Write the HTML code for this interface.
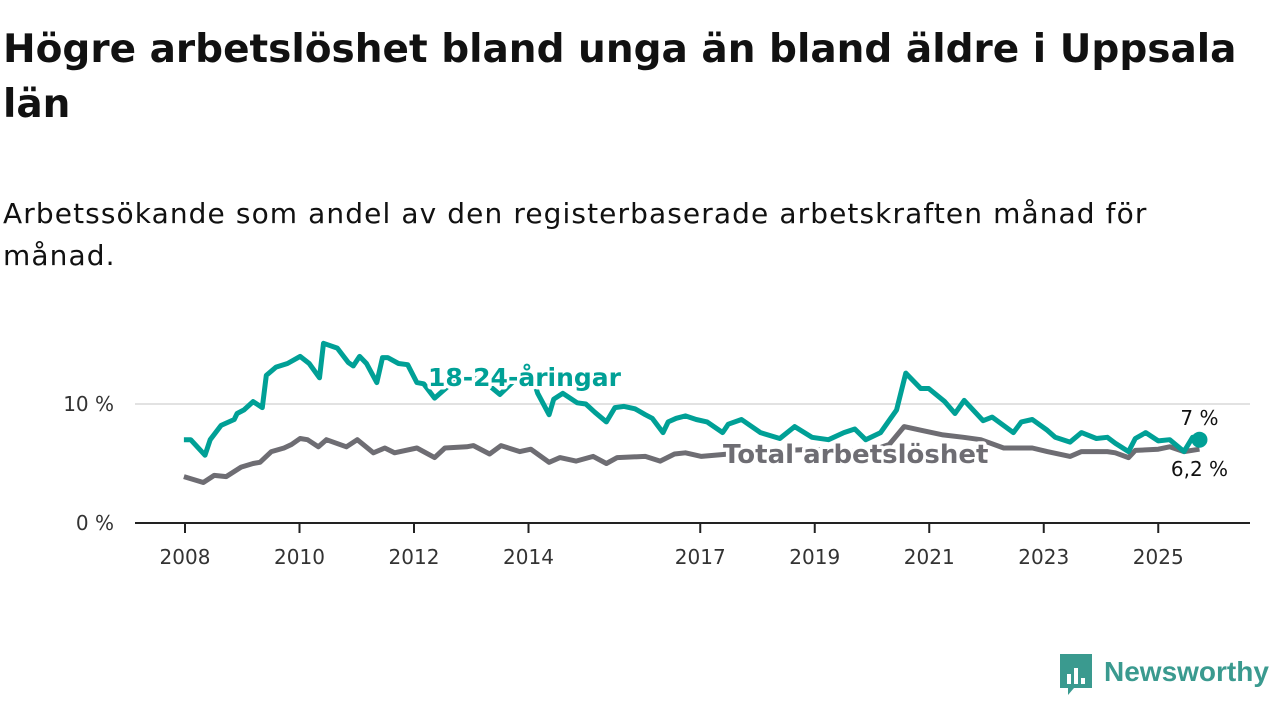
<!DOCTYPE html>
<html><head><meta charset="utf-8">
<style>
body{margin:0;width:1280px;height:720px;background:#fff;font-family:"DejaVu Sans","Liberation Sans",sans-serif;overflow:hidden;position:relative;color:#111}
h1{position:absolute;left:3px;top:22px;margin:0;font-size:39px;line-height:55px;font-weight:bold;width:1275px;color:#111;white-space:nowrap}
.sub{position:absolute;left:3px;top:193px;font-size:28px;line-height:42px;width:1275px;color:#111;white-space:nowrap;letter-spacing:1.1px}
svg{position:absolute;left:0;top:0}
</style></head><body>
<h1>Högre arbetslöshet bland unga än bland äldre i Uppsala<br>län</h1>
<div class="sub">Arbetssökande som andel av den registerbaserade arbetskraften månad för<br>månad.</div>
<svg id="chart" width="1280" height="720"></svg>
<div style="position:absolute;left:1060px;top:654px;width:220px;height:44px">
 <svg width="34" height="42" style="position:absolute;left:0;top:0"><path d="M0 0H32V34H14L8 41V34H0Z" fill="#3a9a8f"/><rect x="7" y="20" width="4" height="10" fill="#fff"/><rect x="14" y="14" width="4" height="16" fill="#fff"/><rect x="21" y="24" width="4" height="6" fill="#fff"/></svg>
 <span style="position:absolute;left:44px;top:2px;font-size:28px;font-weight:bold;color:#3a9a8f;font-family:'Liberation Sans',sans-serif">Newsworthy</span>
</div>
<script>
const youthDates=[2007.98,2008.1,2008.35,2008.44,2008.63,2008.86,2008.91,2009.03,2009.19,2009.35,2009.42,2009.59,2009.79,2010.01,2010.17,2010.35,2010.42,2010.66,2010.85,2010.94,2011.05,2011.17,2011.35,2011.45,2011.54,2011.73,2011.89,2012.05,2012.17,2012.36,2012.6,2012.9,2013.2,2013.5,2013.8,2014.1,2014.16,2014.36,2014.44,2014.6,2014.85,2015.0,2015.16,2015.36,2015.51,2015.67,2015.86,2016.04,2016.16,2016.35,2016.44,2016.58,2016.74,2016.93,2017.12,2017.39,2017.49,2017.72,2018.05,2018.39,2018.65,2018.95,2019.24,2019.51,2019.7,2019.89,2020.15,2020.43,2020.59,2020.85,2020.99,2021.27,2021.45,2021.61,2021.94,2022.1,2022.47,2022.61,2022.8,2023.06,2023.2,2023.46,2023.66,2023.92,2024.11,2024.25,2024.48,2024.6,2024.78,2025.0,2025.2,2025.45,2025.6,2025.72];
const youthValues=[7.0,7.0,5.7,7.0,8.2,8.7,9.2,9.5,10.2,9.7,12.4,13.1,13.4,14.0,13.4,12.2,15.1,14.7,13.5,13.2,14.0,13.4,11.8,13.9,13.9,13.4,13.3,11.8,11.7,10.5,11.5,12.3,12.0,10.8,12.2,11.8,10.9,9.1,10.4,10.9,10.1,10.0,9.3,8.5,9.7,9.8,9.6,9.1,8.8,7.6,8.5,8.8,9.0,8.7,8.5,7.6,8.3,8.7,7.6,7.1,8.1,7.2,7.0,7.6,7.9,7.0,7.6,9.5,12.6,11.3,11.3,10.2,9.2,10.3,8.6,8.9,7.6,8.5,8.7,7.8,7.2,6.8,7.6,7.1,7.2,6.7,6.0,7.1,7.6,6.9,7.0,6.0,7.2,7.0];
const totalDates=[2007.98,2008.32,2008.51,2008.72,2008.98,2009.19,2009.31,2009.51,2009.73,2009.86,2010.01,2010.14,2010.33,2010.47,2010.82,2011.01,2011.29,2011.49,2011.66,2012.05,2012.36,2012.54,2012.92,2013.04,2013.32,2013.52,2013.85,2014.04,2014.36,2014.55,2014.83,2015.13,2015.36,2015.55,2016.04,2016.3,2016.55,2016.74,2017.02,2017.5,2018.0,2018.5,2019.0,2019.5,2020.0,2020.3,2020.56,2020.85,2021.24,2021.6,2021.9,2022.3,2022.8,2023.06,2023.46,2023.66,2024.11,2024.25,2024.48,2024.6,2025.0,2025.2,2025.45,2025.72];
const totalValues=[3.9,3.4,4.0,3.9,4.7,5.0,5.1,6.0,6.3,6.6,7.1,7.0,6.4,7.0,6.4,7.0,5.9,6.3,5.9,6.3,5.5,6.3,6.4,6.5,5.8,6.5,6.0,6.2,5.1,5.5,5.2,5.6,5.0,5.5,5.6,5.2,5.8,5.9,5.6,5.8,6.0,6.1,6.2,6.0,6.1,6.6,8.1,7.8,7.4,7.2,7.0,6.3,6.3,6.0,5.6,6.0,6.0,5.9,5.5,6.1,6.2,6.4,6.0,6.2];
const xTicks=[2008,2010,2012,2014,2017,2019,2021,2023,2025];
const yTicks=[0,10];
const yTickLabels=["0 %","10 %"];

const NS="http://www.w3.org/2000/svg",svg=document.getElementById('chart');
const X=y=>185+(y-2008)*57.25, Y=v=>523-v*11.9;
function mk(t,a,p){const e=document.createElementNS(NS,t);for(const k in a)e.setAttribute(k,a[k]);(p||svg).appendChild(e);return e;}
yTicks.forEach((v,i)=>{
 if(v>0){const g=mk('line',{x1:135,x2:1250,y1:Y(v),y2:Y(v),stroke:'#d9d9d9','stroke-width':1.5});
 
 }
 const t=mk('text',{x:114,y:Y(v)+7,'text-anchor':'end','font-size':20,fill:'#333'});t.textContent=yTickLabels[i];
 
 
});
const ax=mk('line',{x1:135,x2:1250,y1:523,y2:523,stroke:'#222','stroke-width':2});


xTicks.forEach(yr=>{
 const tk=mk('line',{x1:X(yr),x2:X(yr),y1:523,y2:533,stroke:'#222','stroke-width':2});
 
 
 const t=mk('text',{x:X(yr),y:564,'text-anchor':'middle','font-size':20,fill:'#333'});t.textContent=yr;
 
 
});
function path(d,v){return d.map((x,i)=>(i?'L':'M')+X(x).toFixed(1)+' '+Y(v[i]).toFixed(1)).join('');}
const tl=mk('path',{d:path(totalDates,totalValues),fill:'none',stroke:'#6e6d73','stroke-width':5,'stroke-linejoin':'round'});


const yl=mk('path',{d:path(youthDates,youthValues),fill:'none',stroke:'#00a096','stroke-width':5,'stroke-linejoin':'round'});


const lx=X(youthDates[youthDates.length-1]);
const dot=mk('circle',{cx:lx,cy:Y(youthValues[youthValues.length-1]),r:8,fill:'#00a096'});


function label(txt,x,y,sz,col,bold,name){const t=mk('text',{x:x,y:y,'font-size':sz,fill:col,'font-weight':bold?'bold':'normal',stroke:'#fff','stroke-width':bold?7:4,'paint-order':'stroke','stroke-linejoin':'round'});t.textContent=txt;
 
 return t;}
label('18-24-åringar',428,386,25,'#00a096',true,'youth-series-label');
label('Total arbetslöshet',723,463,26,'#6e6d73',true,'total-series-label');
const e1=label(youthValues[youthValues.length-1].toString().replace('.',',')+' %',lx,425,20,'#111',false,'youth-end-value');e1.setAttribute('text-anchor','middle');
const e2=label(totalValues[totalValues.length-1].toString().replace('.',',')+' %',lx,476,20,'#111',false,'total-end-value');e2.setAttribute('text-anchor','middle');
</script>
</body></html>
